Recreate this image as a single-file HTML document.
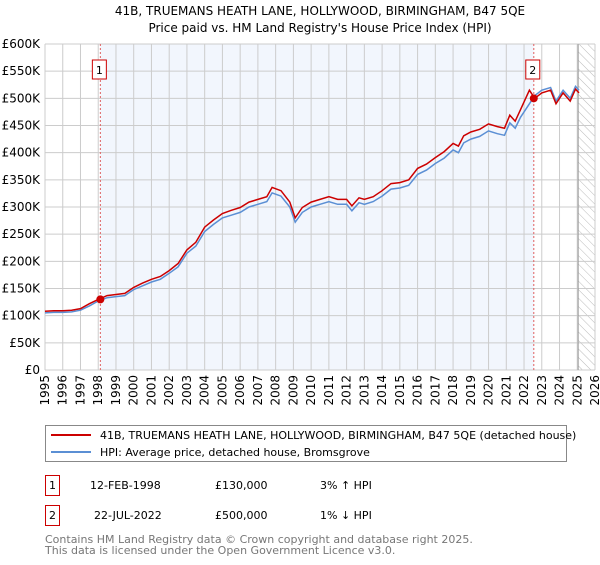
<!DOCTYPE html>
<html><head><meta charset="utf-8"><style>
body{margin:0;background:#fff;font-family:"Liberation Sans","DejaVu Sans",sans-serif;}
svg text{font-family:"DejaVu Sans","Liberation Sans",sans-serif;}
</style></head><body>
<svg id="c" width="600" height="560" xmlns="http://www.w3.org/2000/svg">
<defs><pattern id="hatch" width="6" height="6" patternUnits="userSpaceOnUse" patternTransform="rotate(-45)"><line x1="0" y1="0" x2="0" y2="6" stroke="#bbb" stroke-width="1"/></pattern></defs>
<text x="320" y="15" font-size="12" text-anchor="middle">41B, TRUEMANS HEATH LANE, HOLLYWOOD, BIRMINGHAM, B47 5QE</text>
<text x="320" y="32" font-size="12" text-anchor="middle">Price paid vs. HM Land Registry's House Price Index (HPI)</text>
<g id="plot"></g>
<g>
<rect x="45.5" y="425.5" width="521" height="36" fill="#fff" stroke="#888"/>
<line x1="51" y1="435" x2="91" y2="435" stroke="#cc0000" stroke-width="2"/>
<text x="100" y="439" font-size="11">41B, TRUEMANS HEATH LANE, HOLLYWOOD, BIRMINGHAM, B47 5QE (detached house)</text>
<line x1="51" y1="452" x2="91" y2="452" stroke="#5b8fd4" stroke-width="2"/>
<text x="100" y="456" font-size="11">HPI: Average price, detached house, Bromsgrove</text>
</g>
<g font-size="11">
<rect x="45.5" y="475.5" width="14" height="20" fill="#fff" stroke="#cc0000"/>
<text x="52.5" y="489" text-anchor="middle">1</text>
<text x="90" y="489">12-FEB-1998</text>
<text x="215" y="489">£130,000</text>
<text x="320" y="489">3% ↑ HPI</text>
<rect x="45.5" y="505.5" width="14" height="20" fill="#fff" stroke="#cc0000"/>
<text x="52.5" y="519" text-anchor="middle">2</text>
<text x="94" y="519">22-JUL-2022</text>
<text x="215" y="519">£500,000</text>
<text x="320" y="519">1% ↓ HPI</text>
</g>
<text x="45" y="543" font-size="11" fill="#777">Contains HM Land Registry data © Crown copyright and database right 2025.</text>
<text x="45" y="554" font-size="11" fill="#777">This data is licensed under the Open Government Licence v3.0.</text>
</svg>
<script>
const hpiYears=[1995,1995.5,1996,1996.5,1997,1997.5,1998,1998.5,1999,1999.5,2000,2000.5,2001,2001.5,2002,2002.5,2003,2003.5,2004,2004.5,2005,2005.5,2006,2006.5,2007,2007.5,2007.8,2008.3,2008.8,2009.1,2009.5,2010,2010.5,2011,2011.5,2012,2012.3,2012.7,2013,2013.5,2014,2014.5,2015,2015.5,2016,2016.5,2017,2017.5,2018,2018.3,2018.6,2019,2019.5,2020,2020.5,2020.9,2021.2,2021.5,2021.8,2022.3,2022.6,2023,2023.5,2023.8,2024.2,2024.6,2024.9,2025.1];
const hpiValues=[105,106,106,107,110,118,127,133,135,137,148,155,162,167,178,190,215,228,255,268,280,285,290,300,305,310,326,320,300,272,290,300,305,310,305,305,293,308,305,310,320,333,335,340,360,368,380,390,405,400,418,425,430,440,435,432,455,445,465,490,505,515,520,495,515,500,522,515];
const priceYears=[1995,1995.5,1996,1996.5,1997,1997.5,1998,1998.5,1999,1999.5,2000,2000.5,2001,2001.5,2002,2002.5,2003,2003.5,2004,2004.5,2005,2005.5,2006,2006.5,2007,2007.5,2007.8,2008.3,2008.8,2009.1,2009.5,2010,2010.5,2011,2011.5,2012,2012.3,2012.7,2013,2013.5,2014,2014.5,2015,2015.5,2016,2016.5,2017,2017.5,2018,2018.3,2018.6,2019,2019.5,2020,2020.5,2020.9,2021.2,2021.5,2021.8,2022.3,2022.6,2023,2023.5,2023.8,2024.2,2024.6,2024.9,2025.1];
const priceValues=[108,109,109,110,113,122,130,137,139,141,152,160,167,172,183,196,221,235,263,276,288,294,299,309,314,319,336,330,309,280,299,309,314,319,314,314,302,317,314,319,330,343,345,350,371,379,391,402,417,412,431,438,443,453,448,445,469,458,479,515,500,510,515,490,510,495,517,510];
const sales=[{n:"1",year:1998.12,value:130},{n:"2",year:2022.55,value:500}];
const yTicks=[0,50,100,150,200,250,300,350,400,450,500,550,600];
const yTickLabels=["£0","£50K","£100K","£150K","£200K","£250K","£300K","£350K","£400K","£450K","£500K","£550K","£600K"];
const xTicks=[1995,1996,1997,1998,1999,2000,2001,2002,2003,2004,2005,2006,2007,2008,2009,2010,2011,2012,2013,2014,2015,2016,2017,2018,2019,2020,2021,2022,2023,2024,2025,2026];

const NS="http://www.w3.org/2000/svg";
const L=45,R=595,T=44,B=370;
const x=v=>L+(v-1995)/(2026-1995)*(R-L);
const y=v=>B-v/600*(B-T);
const g=document.getElementById('plot');
function mk(t,a,p){const e=document.createElementNS(NS,t);for(const k in a)e.setAttribute(k,a[k]);(p||g).appendChild(e);return e;}

let e=mk('rect',{x:x(sales[0].year),y:T,width:x(sales[1].year)-x(sales[0].year),height:B-T,fill:'#f2f6fd'});


e=mk('rect',{x:x(2025.05),y:T,width:R-x(2025.05),height:B-T,fill:'url(#hatch)'});


yTicks.forEach((v,i)=>{
  let l=mk('line',{x1:L,x2:R,y1:y(v),y2:y(v),stroke:'#ccc'});
  
  
  let t=mk('text',{x:L-5,y:y(v)+4,'font-size':12,'text-anchor':'end'});
  t.textContent=yTickLabels[i];
  
  
});
xTicks.forEach(v=>{
  let l=mk('line',{x1:x(v),x2:x(v),y1:T,y2:B,stroke:'#ccc'});
  
  
  let t=mk('text',{x:0,y:0,'font-size':12,'text-anchor':'end',transform:`translate(${x(v)+4},${B+5}) rotate(-90)`});
  t.textContent=v;
  
  
});
e=mk('line',{x1:x(2025.05),x2:x(2025.05),y1:T,y2:B,stroke:'#999'});


sales.forEach(s=>{
  let l=mk('line',{x1:x(s.year),x2:x(s.year),y1:T,y2:B,stroke:'#e06060','stroke-dasharray':'2,2'});
  
  
});
const pts=(xs,vs)=>xs.map((v,i)=>x(v).toFixed(1)+','+y(vs[i]).toFixed(1)).join(' ');
e=mk('polyline',{points:pts(hpiYears,hpiValues),fill:'none',stroke:'#5b8fd4','stroke-width':1.5});


e=mk('polyline',{points:pts(priceYears,priceValues),fill:'none',stroke:'#cc0000','stroke-width':1.5});


sales.forEach(s=>{
  let c=mk('circle',{cx:x(s.year),cy:y(s.value),r:4,fill:'#cc0000'});
  
  
  let r=mk('rect',{x:x(s.year)-8,y:60,width:14,height:19,fill:'#fff',stroke:'#cc0000'});
  
  
  let t=mk('text',{x:x(s.year)-1,y:74,'font-size':11,'text-anchor':'middle'});
  t.textContent=s.n;
  
  
});
</script>
</body></html>
